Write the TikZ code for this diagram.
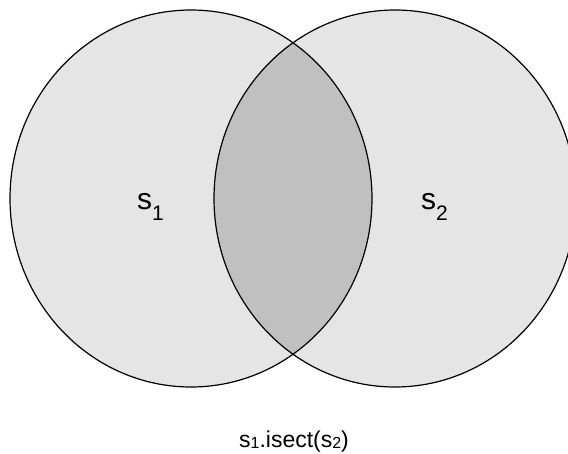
\documentclass[tikz,border=0pt]{standalone}
\usepackage{fontspec}
\setmainfont{Liberation Sans}
\begin{document}
\begin{tikzpicture}[x=1pt,y=-1pt,
  outline/.style={draw=black,line width=1.2pt},
  setlabel/.style={inner sep=0pt,anchor=base west,font=\fontsize{30}{30}\selectfont},
  caption/.style={inner sep=0pt,anchor=base,font=\fontsize{23}{23}\selectfont}]
\definecolor{setgray}{HTML}{E5E5E5}
\definecolor{lensgray}{HTML}{C0C0C0}
\useasboundingbox (0,0) rectangle (568,453);
\clip (0,0) rectangle (568,453);
\coordinate (c1) at (191,198.5);
\coordinate (c2) at (395,198.5);
% fills
\fill[setgray] (c1) ellipse [x radius=181pt, y radius=188.5pt];
\fill[setgray] (c2) ellipse [x radius=181pt, y radius=188.5pt];
\begin{scope}
  \clip (c1) ellipse [x radius=181pt, y radius=188.5pt];
  \fill[lensgray] (c2) ellipse [x radius=181pt, y radius=188.5pt];
\end{scope}
% outlines
\draw[outline] (c1) ellipse [x radius=181pt, y radius=188.5pt];
\draw[outline] (c2) ellipse [x radius=181pt, y radius=188.5pt];
% labels
\node[setlabel] (s1) at (137,209) {s\raisebox{-11pt}{\fontsize{21}{21}\selectfont 1}};
\node[setlabel] (s2) at (421,209) {s\raisebox{-11pt}{\fontsize{21}{21}\selectfont 2}};
\node[caption] (cap) at (294,447) {s\raisebox{-1.5pt}{\fontsize{16}{16}\selectfont 1}.isect(s\raisebox{-1.5pt}{\fontsize{16}{16}\selectfont 2})};
\end{tikzpicture}
\end{document}
